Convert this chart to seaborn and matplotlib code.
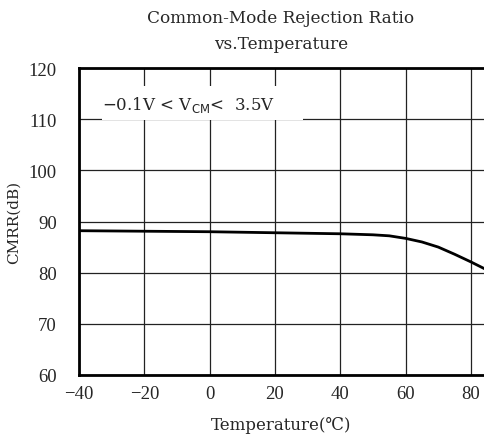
import matplotlib
matplotlib.use('Agg')
import matplotlib.pyplot as plt
import seaborn as sns
import pandas as pd

# data
temperature = [-40, -20, 0, 20, 40, 50, 55, 60, 65, 70, 75, 80, 85]
cmrr_db = [88.2, 88.1, 88.0, 87.8, 87.6, 87.4, 87.2, 86.7, 86.0, 85.0, 83.6, 82.1, 80.5]
x_ticks = [-40, -20, 0, 20, 40, 60, 80]
y_ticks = [60, 70, 80, 90, 100, 110, 120]

sns.set_style('white')
plt.rcParams['font.family'] = ['Liberation Serif', 'Noto Sans CJK SC', 'DejaVu Sans']
wide = ['DejaVu Serif', 'Noto Sans CJK SC', 'DejaVu Sans']

df = pd.DataFrame({'T': temperature, 'CMRR': cmrr_db})

fig = plt.figure(figsize=(4.84, 4.39), dpi=100)
ax = fig.add_axes([79 / 484, 1 - 376 / 439, 1 - 79 / 484, (376 - 69) / 439])

sns.lineplot(data=df, x='T', y='CMRR', ax=ax, color='black', linewidth=2)

ax.set_xlim(-40, 84)
ax.set_ylim(60, 120)
ax.set_xticks(x_ticks)
ax.set_yticks(y_ticks)
ax.set_xticklabels([f'\u2212{abs(v)}' if v < 0 else str(v) for v in x_ticks])
ax.grid(True, color='#222222', linewidth=0.9)
ax.tick_params(axis='both', length=0, labelsize=13.5)
ax.tick_params(axis='y', pad=16)
ax.tick_params(axis='x', pad=7)

for side in ['left', 'bottom', 'top']:
    ax.spines[side].set_visible(True)
    ax.spines[side].set_color('black')
    ax.spines[side].set_linewidth(2)
ax.spines['right'].set_visible(False)

ax.set_xlabel('Temperature(\u2103)', fontsize=12, labelpad=10, family=wide)
ax.set_ylabel('CMRR(dB)', fontsize=11, labelpad=6, family=wide)

fig.text(0.58, 0.957, 'Common-Mode Rejection Ratio', ha='center', va='center',
         fontsize=12.2, family=wide)
fig.text(0.58, 0.898, 'vs.Temperature', ha='center', va='center', fontsize=12.2, family=wide)

ax.add_patch(plt.Rectangle((0.057, 0.831), 0.496, 0.11, transform=ax.transAxes,
                           facecolor='white', edgecolor='none', zorder=1.5))
ax.text(0.057, 0.883, r'$-$0.1V < V$_{\mathrm{CM}}$<  3.5V', transform=ax.transAxes,
        fontsize=12, va='center', ha='left', family=wide, zorder=3)

fig.savefig('out.png', dpi=100)
